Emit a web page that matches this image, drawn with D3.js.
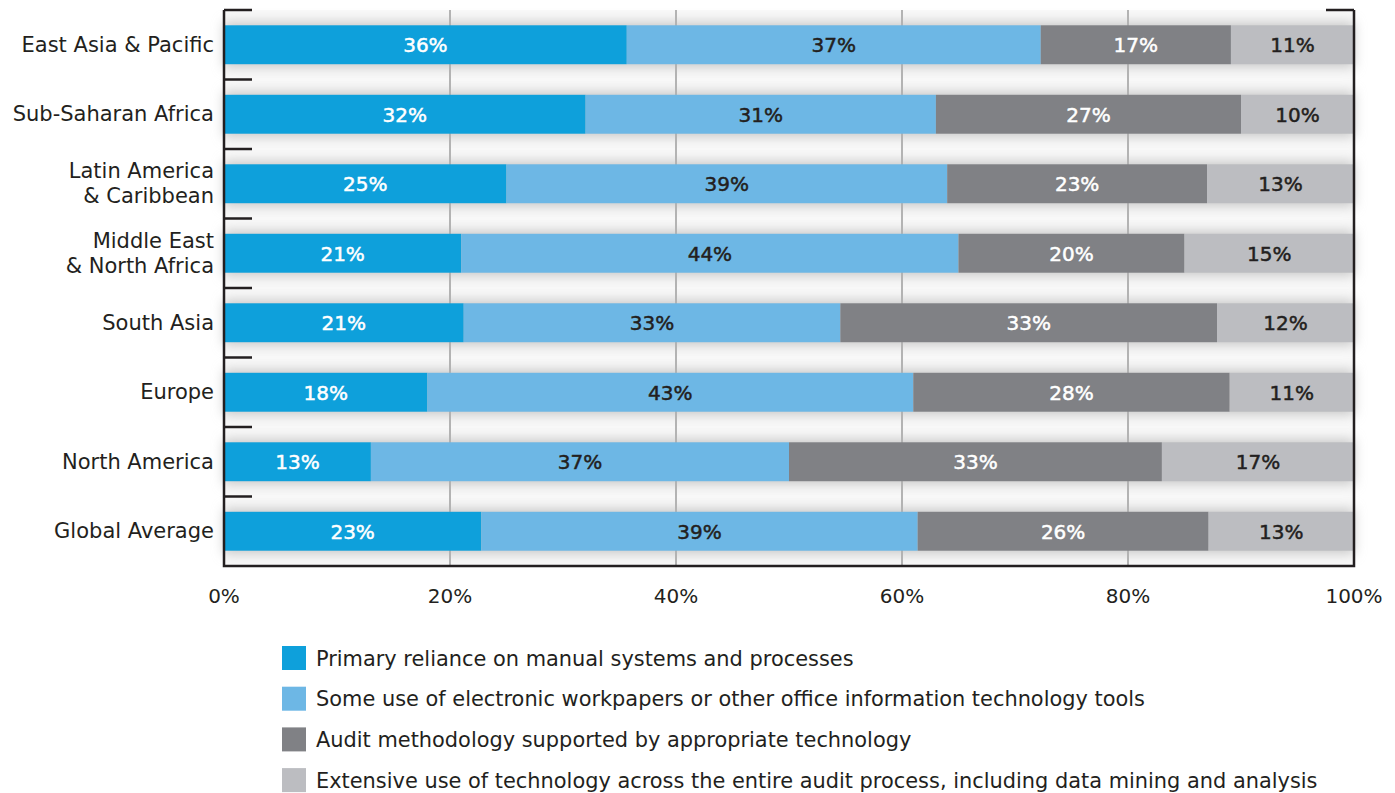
<!DOCTYPE html>
<html><head><meta charset="utf-8">
<script src="https://cdn.jsdelivr.net/npm/d3@7"></script>
<style>
body{margin:0;background:#fff;}
text{font-family:"DejaVu Sans",sans-serif;}
</style></head>
<body><svg id="c" width="1395" height="793"></svg>
<script>
const regions = ["East Asia & Pacific","Sub-Saharan Africa","Latin America\n& Caribbean","Middle East\n& North Africa","South Asia","Europe","North America","Global Average"];
const manual      = [36,32,25,21,21,18,13,23];
const electronic  = [37,31,39,44,33,43,37,39];
const methodology = [17,27,23,20,33,28,33,26];
const extensive   = [11,10,13,15,12,11,17,13];
const seriesNames = ["Primary reliance on manual systems and processes","Some use of electronic workpapers or other office information technology tools","Audit methodology supported by appropriate technology","Extensive use of technology across the entire audit process, including data mining and analysis"];
const xTicks = [0,20,40,60,80,100];

const colors = ["#0ea0db","#6db7e5","#808185","#bcbdc1"];
const labelColors = ["#fff","#231f20","#fff","#231f20"];
const series = [manual,electronic,methodology,extensive];

const svg = d3.select("#c");
const L=224,R=1354,T=10,B=566;
const x = d3.scaleLinear().domain([0,100]).range([L,R]);
const y = d3.scaleBand().domain(regions).range([T,B]).paddingInner(0.44).paddingOuter(0.22);
const yb = d3.scaleBand().domain(regions).range([T,B]);

const defs = svg.append("defs");
defs.append("filter").attr("id","sh").attr("x","-5%").attr("y","-60%").attr("width","110%").attr("height","220%")
  .append("feGaussianBlur").attr("stdDeviation",6);

svg.append("rect").attr("x",L).attr("y",T).attr("width",R-L).attr("height",B-T).attr("fill","#f8f8f8");

svg.append("g").selectAll("rect").data(regions).join("rect")
  .attr("x",L).attr("width",R-L).attr("y",d=>y(d)-3).attr("height",y.bandwidth()+6)
  .attr("fill","#c8c8c8").attr("filter","url(#sh)");

svg.append("g").selectAll("line").data(xTicks.slice(1,-1)).join("line")
  .attr("x1",d=>x(d)).attr("x2",d=>x(d)).attr("y1",T).attr("y2",B)
  .attr("stroke","#b3b3b3").attr("stroke-width",2);

const rows = regions.map((r,i)=>{
  const vals = series.map(s=>s[i]);
  const total = d3.sum(vals);
  let acc=0;
  return vals.map((v,k)=>{const s=acc; acc+=v; return {r,k,v,x0:s/total*100,x1:acc/total*100};});
});
const g = svg.append("g");
rows.forEach(row=>{
  g.selectAll(null).data(row).join("rect")
    .attr("x",d=>x(d.x0)).attr("width",d=>x(d.x1)-x(d.x0))
    .attr("y",d=>y(d.r)).attr("height",y.bandwidth())
    .attr("fill",d=>colors[d.k]);
  g.selectAll(null).data(row).join("text")
    .attr("x",d=>(x(d.x0)+x(d.x1))/2).attr("y",d=>y(d.r)+y.bandwidth()/2+7.5)
    .attr("text-anchor","middle").attr("font-size",20)
    .attr("fill",d=>labelColors[d.k]).attr("stroke",d=>labelColors[d.k]).attr("stroke-width",0.5)
    .text(d=>d.v+"%");
});

const fr = svg.append("g").attr("stroke","#231f20").attr("stroke-width",2.5).attr("fill","none");
fr.append("path").attr("d",`M${L},${T}V${B}H${R}V${T}`);
fr.selectAll(null).data(regions).join("line")
  .attr("x1",L).attr("x2",L+28).attr("y1",d=>yb(d)).attr("y2",d=>yb(d));
fr.append("line").attr("x1",R-28).attr("x2",R).attr("y1",T).attr("y2",T);

svg.append("g").selectAll("text").data(xTicks).join("text")
  .attr("x",d=>x(d)).attr("y",603).attr("text-anchor","middle")
  .attr("font-size",20).attr("fill","#231f20").text(d=>d+"%");

svg.append("g").selectAll("text").data(regions).join("text")
  .attr("text-anchor","end").attr("font-size",21).attr("fill","#231f20")
  .each(function(d){
    const lines=d.split("\n");
    const cy=y(d)+y.bandwidth()/2;
    const t=d3.select(this);
    lines.forEach((ln,i)=>{
      t.append("tspan").attr("x",214).attr("y",cy+7+(i-(lines.length-1)/2)*25).text(ln);
    });
  });

const lg = svg.append("g").selectAll("g").data(seriesNames).join("g")
  .attr("transform",(d,i)=>`translate(282,${646+i*40.7})`);
lg.append("rect").attr("width",24).attr("height",24).attr("fill",(d,i)=>colors[i]);
lg.append("text").attr("x",34).attr("y",19.5).attr("font-size",20.9).attr("fill","#231f20").text(d=>d);
</script></body></html>
